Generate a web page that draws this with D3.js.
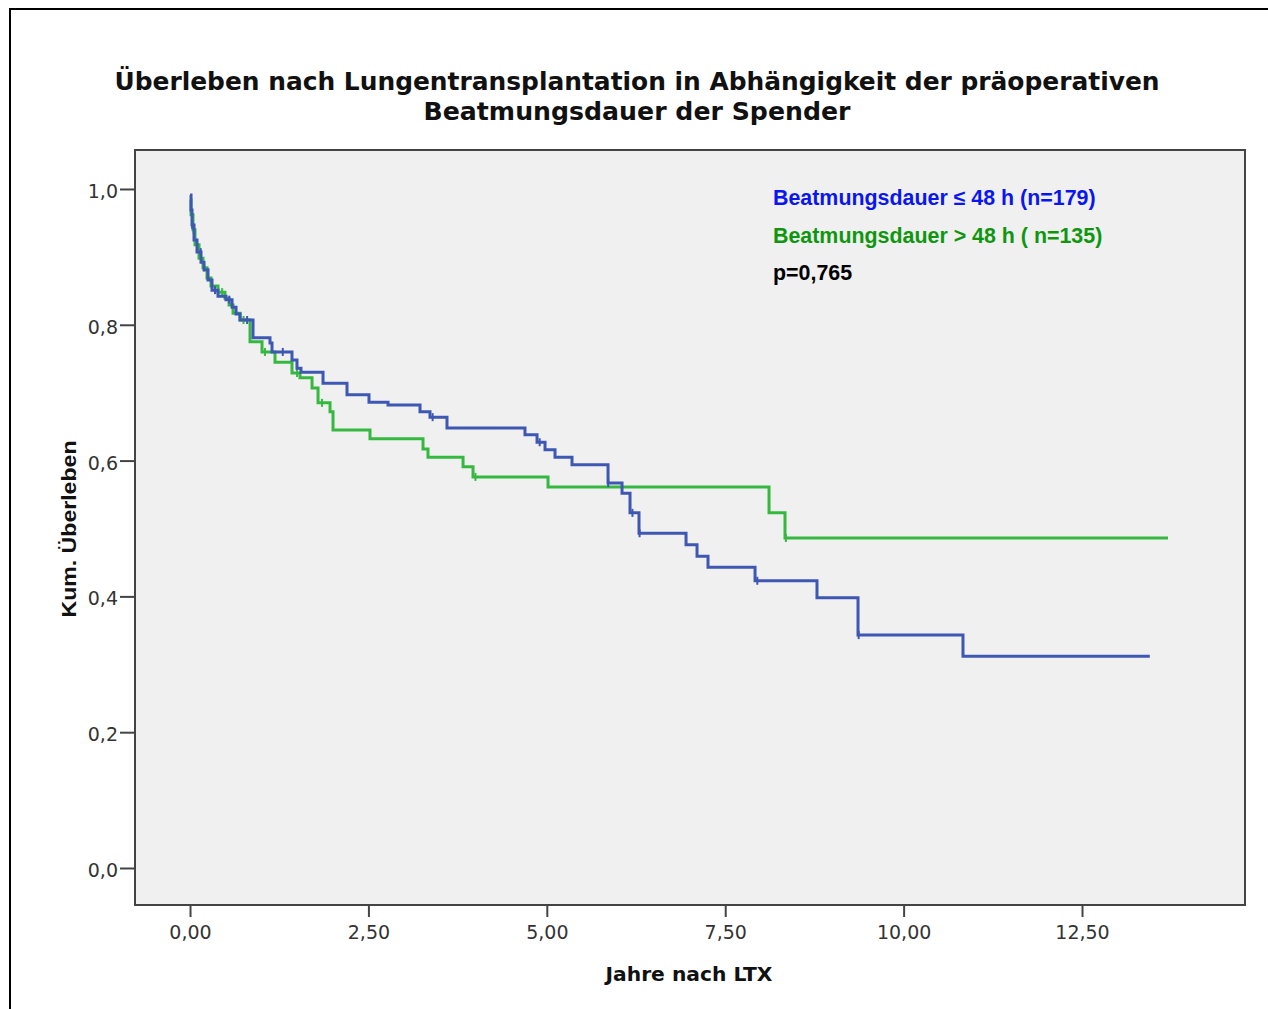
<!DOCTYPE html>
<html>
<head>
<meta charset="utf-8">
<script src="https://cdn.jsdelivr.net/npm/d3@7"></script>
<style>
  body { margin: 0; background: #fff; }
  svg { display: block; }
</style>
</head>
<body>
<div class="grafico"></div>
<script>
// Kaplan-Meier Stufen: [Jahre, kum. Überleben]
var blueSteps = [
  [0.000, 0.991], [0.014, 0.969], [0.028, 0.947], [0.056, 0.925], [0.098, 0.907],
  [0.154, 0.892], [0.196, 0.881], [0.252, 0.866], [0.308, 0.851], [0.392, 0.842],
  [0.504, 0.837], [0.589, 0.826], [0.645, 0.816], [0.701, 0.807], [0.883, 0.781],
  [1.121, 0.773], [1.149, 0.760], [1.429, 0.748], [1.499, 0.736], [1.555, 0.730],
  [1.864, 0.714], [2.200, 0.697], [2.508, 0.686], [2.775, 0.682], [3.223, 0.672],
  [3.363, 0.664], [3.601, 0.648], [4.694, 0.638], [4.863, 0.627], [4.975, 0.616],
  [5.115, 0.605], [5.353, 0.594], [5.858, 0.567], [6.054, 0.552], [6.166, 0.523],
  [6.292, 0.493], [6.951, 0.476], [7.105, 0.459], [7.259, 0.443], [7.918, 0.423],
  [8.786, 0.398], [9.361, 0.343], [10.832, 0.312], [13.45, 0.312]
];
var greenSteps = [
  [0.000, 0.984], [0.014, 0.962], [0.042, 0.940], [0.070, 0.918], [0.126, 0.898],
  [0.182, 0.884], [0.238, 0.869], [0.294, 0.857], [0.392, 0.848], [0.490, 0.839],
  [0.547, 0.829], [0.603, 0.817], [0.701, 0.807], [0.841, 0.775], [1.009, 0.760],
  [1.191, 0.745], [1.429, 0.729], [1.541, 0.722], [1.710, 0.707], [1.794, 0.685],
  [1.962, 0.672], [2.004, 0.645], [2.522, 0.632], [3.265, 0.617], [3.335, 0.605],
  [3.826, 0.591], [3.966, 0.576], [5.017, 0.561], [8.114, 0.523], [8.338, 0.486],
  [13.705, 0.486]
];
// zensierte Fälle (Jahre)
var blueCensor = [0.03, 0.15, 0.35, 0.55, 0.8, 1.3, 3.4, 4.9, 5.86, 6.2, 6.3, 7.95, 9.37];
var greenCensor = [0.05, 0.2, 0.45, 0.75, 1.05, 1.5, 1.85, 4.0, 8.35];

var xTicks = [0, 2.5, 5, 7.5, 10, 12.5];
var yTicks = [0, 0.2, 0.4, 0.6, 0.8, 1.0];
var titleLines = ["Überleben nach Lungentransplantation in Abhängigkeit der präoperativen",
                  "Beatmungsdauer der Spender"];
var legendLines = ["Beatmungsdauer \u2264 48 h (n=179)", "Beatmungsdauer > 48 h ( n=135)", "p=0,765"];
var legendColors = ["#0a16f0", "#0f960f", "#000000"];

var width = 1268;
var height = 1009;
var plot = { left: 135, right: 1245, top: 150, bottom: 905 };

var svg = d3.select(".grafico")
  .append("svg")
  .attr("width", width)
  .attr("height", height);

// äußerer Rahmen
svg.append("rect")
  .attr("x", 10).attr("y", 9)
  .attr("width", 1400).attr("height", 1200)
  .attr("fill", "#fff")
  .attr("stroke", "#000")
  .attr("stroke-width", 2);

var x = d3.scaleLinear()
  .domain([-0.771, 14.784])
  .range([plot.left, plot.right]);
var y = d3.scaleLinear()
  .domain([-0.0545, 1.0574])
  .range([plot.bottom, plot.top]);

var comma = function(f) { return function(d) { return d3.format(f)(d).replace(".", ","); }; };

// Plotfläche
svg.append("rect")
  .attr("x", plot.left).attr("y", plot.top)
  .attr("width", plot.right - plot.left)
  .attr("height", plot.bottom - plot.top)
  .attr("fill", "#f0f0f0")
  .attr("stroke", "#444")
  .attr("stroke-width", 2);

// Achsen
var xAxis = svg.append("g")
  .attr("transform", "translate(0," + plot.bottom + ")")
  .call(d3.axisBottom(x).tickValues(xTicks).tickSize(12).tickPadding(9).tickFormat(comma(".2f")));
var yAxis = svg.append("g")
  .attr("transform", "translate(" + plot.left + ",0)")
  .call(d3.axisLeft(y).tickValues(yTicks).tickSize(15).tickPadding(2).tickFormat(comma(".1f")));

[xAxis, yAxis].forEach(function(a) {
  a.select(".domain").remove();
  a.selectAll(".tick line").attr("stroke", "#444").attr("stroke-width", 2);
  a.selectAll(".tick text")
    .attr("fill", "#333")
    .style("font-family", "'DejaVu Sans', Verdana, sans-serif")
    .style("font-size", "19px");
});
yAxis.selectAll(".tick text").attr("dy", "0.45em");

// Kurven
var line = d3.line()
  .x(function(d) { return x(d[0]); })
  .y(function(d) { return y(d[1]); })
  .curve(d3.curveStepAfter);

function survivalAt(steps, t) {
  var s = steps[0][1];
  steps.forEach(function(d) { if (d[0] <= t) s = d[1]; });
  return s;
}

var groups = [
  { steps: blueSteps, censor: blueCensor, color: "#3d57b3" },
  { steps: greenSteps, censor: greenCensor, color: "#35b83f" }
];

groups.slice().reverse().forEach(function(g) {
  svg.append("path")
    .datum(g.steps)
    .attr("d", line)
    .attr("fill", "none")
    .attr("stroke", g.color)
    .attr("stroke-width", 3);

  svg.selectAll(null)
    .data(g.censor)
    .enter()
    .append("line")
    .attr("x1", function(d) { return x(d); })
    .attr("x2", function(d) { return x(d); })
    .attr("y1", function(d) { return y(survivalAt(g.steps, d)) - 4; })
    .attr("y2", function(d) { return y(survivalAt(g.steps, d)) + 4; })
    .attr("stroke", g.color)
    .attr("stroke-width", 2);
});

// Titel
svg.selectAll(".title")
  .data(titleLines)
  .enter()
  .append("text")
  .attr("x", 637)
  .attr("y", function(d, i) { return 90 + i * 30; })
  .attr("text-anchor", "middle")
  .attr("textLength", function(d, i) { return i == 0 ? 1045 : 427; })
  .attr("lengthAdjust", "spacingAndGlyphs")
  .style("font-family", "'DejaVu Sans', Verdana, sans-serif")
  .style("font-weight", "bold")
  .style("font-size", "25px")
  .attr("fill", "#111")
  .text(function(d) { return d; });

// Achsentitel
svg.append("text")
  .attr("x", 689).attr("y", 981)
  .attr("text-anchor", "middle")
  .attr("textLength", 167)
  .attr("lengthAdjust", "spacingAndGlyphs")
  .style("font-family", "'DejaVu Sans', Verdana, sans-serif")
  .style("font-weight", "bold")
  .style("font-size", "19px")
  .attr("fill", "#111")
  .text("Jahre nach LTX");

svg.append("text")
  .attr("transform", "translate(76,529) rotate(-90)")
  .attr("text-anchor", "middle")
  .attr("textLength", 177)
  .attr("lengthAdjust", "spacingAndGlyphs")
  .style("font-family", "'Liberation Sans', Arial, sans-serif")
  .style("font-weight", "bold")
  .style("font-size", "20px")
  .attr("fill", "#111")
  .text("Kum. Überleben");

// Legende
svg.selectAll(".legend")
  .data(legendLines)
  .enter()
  .append("text")
  .attr("x", 773)
  .attr("y", function(d, i) { return 205 + i * 37.5; })
  .style("font-family", "'Liberation Sans', Arial, sans-serif")
  .style("font-weight", "bold")
  .style("font-size", "21.4px")
  .attr("fill", function(d, i) { return legendColors[i]; })
  .text(function(d) { return d; });
</script>
</body>
</html>
